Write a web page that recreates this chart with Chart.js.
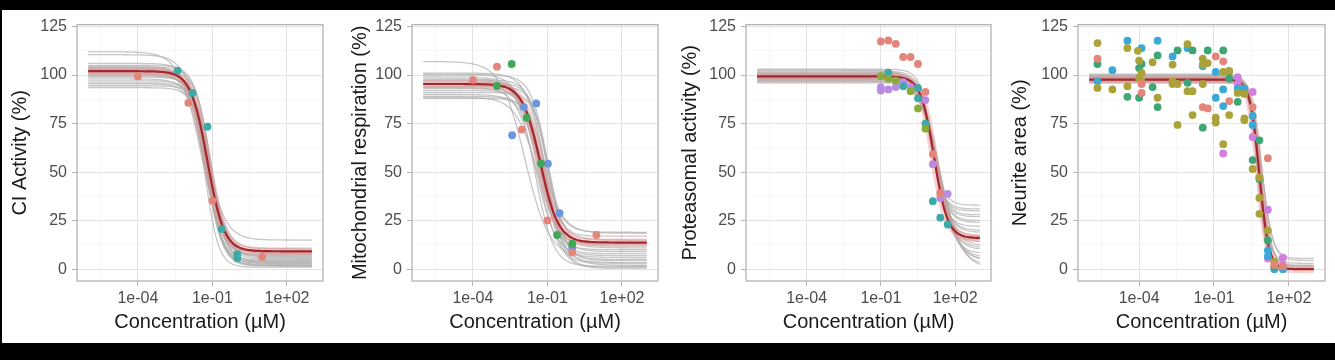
<!DOCTYPE html>
<html>
<head>
<meta charset="utf-8">
<script src="https://cdn.jsdelivr.net/npm/chart.js@4.4.0/dist/chart.umd.min.js"></script>
<style>
  html, body { margin: 0; padding: 0; background: #000; }
  body { width: 1335px; height: 360px; position: relative; overflow: hidden; }
  #sheet { position: absolute; left: 2px; top: 10px; width: 1333px; height: 333px; background: #fff; }
  canvas { position: absolute; top: 10px; }
</style>
</head>
<body>
<div id="sheet"></div>
<canvas id="ci" width="327" height="333" style="left:2px;width:327px;height:333px"></canvas>
<canvas id="mito" width="329" height="333" style="left:335px;width:329px;height:333px"></canvas>
<canvas id="prot" width="329" height="333" style="left:668px;width:329px;height:333px"></canvas>
<canvas id="neur" width="333" height="333" style="left:998px;width:333px;height:333px"></canvas>
<script>
// axes (x in log10 µM)
const xMajor = [-4, -1, 2];
const xMinor = [-5.5, -2.5, 0.5];
const xTickLabels = ['1e-04', '1e-01', '1e+02'];
const yMajor = [0, 25, 50, 75, 100, 125];
const yMinor = [12.5, 37.5, 62.5, 87.5, 112.5];
const xAxisTitle = 'Concentration (µM)';

// colours
const cSalmon = '#e3857a';
const cTeal = '#3eaaa8';
const cGreen = '#41a656';
const cBlue = '#6a96de';
const cOlive = '#8aab3a';
const cPurple = '#b98be3';
const cMustard = '#aba33a';
const cJade = '#3ea574';
const cSky = '#3aa9d6';
const cPink = '#d27fdf';

// ---- CI activity ----
const ciSalmonX = [-4.0, -1.97, -1.0, 1.0];
const ciSalmonY = [99.3, 85.7, 35.3, 6.3];
const ciTealX = [-2.4, -1.8, -1.2, -0.63, 0.0, 0.0];
const ciTealY = [102.3, 90.8, 73.4, 20.7, 7.7, 5.6];
const ciFit = { top: 102, bottom: 9.2, ec50: -1.2, hill: 1.3 };
const ciBootTop = [112, 110.5, 106, 105, 104.5, 104, 103.5, 103, 102.5, 102, 101.5, 101, 100.5, 100, 99.5, 99, 98, 97, 96, 95.5, 94.5, 93.5];
const ciBootBottom = [6, 15, 4, 9.5, 3, 7, 2, 5.5, 8.5, 1.5, 4.5, 10.5, 3.5, 6.5, 2.5, 5, 8, 1, 4, 3, 7.5, 2];
const ciBootEc50 = [-1.45, -1.3, -1.2, -1.1, -1.3, -1.15, -1.25, -1.12, -1.35, -1.2, -1.05, -1.15, -1.28, -1.12, -1.22, -1.08, -1.18, -1.3, -1.1, -1.2, -1.05, -1.15];
const ciBootHill = [1.0, 1.1, 1.3, 1.4, 1.2, 1.5, 1.3, 1.2, 1.15, 1.4, 1.5, 1.25, 1.35, 1.2, 1.45, 1.3, 1.2, 1.6, 1.4, 1.35, 1.5, 1.45];

// ---- Mitochondrial respiration ----
const mitoSalmonX = [-4.0, -3.03, -2.03, -1.0, 0.0, 0.97];
const mitoSalmonY = [97.5, 104.3, 71.9, 25.1, 8.6, 17.6];
const mitoGreenX = [-3.03, -2.44, -1.83, -1.26, -0.61, 0.0];
const mitoGreenY = [94.4, 105.7, 78.0, 54.5, 17.6, 13.2];
const mitoBlueX = [-2.42, -1.95, -1.45, -0.98, -0.51, 0.0];
const mitoBlueY = [69.0, 83.5, 85.4, 54.3, 28.9, 11.1];
const mitoFit = { top: 95.4, bottom: 13.7, ec50: -1.28, hill: 1.2 };
const mitoBootTop = [107, 101, 100.5, 100, 99, 98, 97.5, 97, 96, 95.5, 95, 94, 93.5, 93, 92, 91, 90, 89, 88.5, 88];
const mitoBootBottom = [6, 19, 3, 12, 18.5, 1.5, 8, 15, 4.5, 10, 2, 17, 7, 0.5, 13, 5, 9, 3.5, 11, 1];
const mitoBootEc50 = [-1.9, -1.2, -1.4, -1.0, -1.3, -1.5, -1.1, -1.25, -0.95, -1.35, -1.2, -1.05, -1.45, -1.15, -1.3, -0.9, -1.25, -1.1, -1.4, -1.0];
const mitoBootHill = [0.9, 1.2, 1.1, 1.3, 1.0, 1.2, 1.4, 1.1, 1.3, 1.2, 1.0, 1.5, 1.1, 1.2, 1.3, 1.4, 1.1, 1.2, 1.0, 1.3];

// ---- Proteasomal activity ----
const protSalmonX = [-1.0, -0.7, -0.4, -0.1, 0.2, 0.5, 0.8, 1.1, 1.4];
const protSalmonY = [117.3, 117.8, 116.1, 109.3, 109.3, 105.7, 91.3, 59.3, 39.1];
const protOliveX = [-1.0, -0.7, -0.4, 0.2, 0.5, 0.8];
const protOliveY = [99.4, 98.2, 97.2, 91.7, 82.8, 72.4];
const protTealX = [-0.7, -0.1, 0.5, 0.5, 0.8, 1.1, 1.4, 1.7];
const protTealY = [101.3, 94.3, 93.4, 88.0, 75.0, 35.0, 26.5, 23.0];
const protPurpleX = [-1.0, -1.0, -0.7, -0.4, -0.1, 0.2, 0.8, 1.1, 1.4, 1.7];
const protPurpleY = [93.8, 92.0, 92.6, 93.8, 96.3, 93.9, 87.1, 54.1, 36.7, 38.8];
const protFit = { top: 99.3, bottom: 16, ec50: 1.15, hill: 1.6 };
const protBootTop = [103, 102.5, 102, 101.5, 101, 100.5, 100, 100, 99.5, 99, 99, 98.5, 98, 98, 97.5, 97, 96.5, 96, 101, 99.5, 98.5, 97];
const protBootBottom = [33, 2, 25, 10, 30, 5, 20, 14, 27, 0, 8, 22, 17, 12, 31, 4, 24, 19, 6, 28, 15, 11];
const protBootEc50 = [1.05, 1.35, 1.1, 1.25, 1.0, 1.3, 1.15, 1.2, 1.1, 1.4, 1.25, 1.1, 1.2, 1.3, 1.05, 1.35, 1.15, 1.2, 1.3, 1.1, 1.2, 1.25];
const protBootHill = [1.8, 1.1, 1.6, 1.3, 1.7, 1.2, 1.5, 1.4, 1.7, 1.0, 1.3, 1.6, 1.5, 1.3, 1.8, 1.1, 1.6, 1.5, 1.2, 1.7, 1.4, 1.3];

// ---- Neurite area ----
const neurMustardX = [-5.67, -5.67, -5.07, -4.47, -4.47, -4.05, -4.0, -4.0, -3.9, -3.9, -3.46, -3.26, -2.66, -2.66, -2.66, -2.46, -2.46, -2.06, -2.06, -1.86, -1.86, -1.45, -1.45, -1.45, -1.25, -0.93, -0.93, -0.63, -0.63, -0.39, -0.39, -0.05, 0.22, 0.22, 0.22, 0.55, 0.82, 0.82, 0.82, 1.16, 1.42];
const neurMustardY = [116.5, 93.4, 92.6, 113.9, 94.3, 112.5, 107.4, 98.5, 101.1, 96.8, 106.6, 88.3, 105.4, 96.8, 95.4, 74.3, 95.4, 115.9, 91.7, 91.7, 79.4, 108.4, 105.4, 95.4, 106.2, 78.0, 75.5, 101.6, 64.4, 102.2, 79.4, 90.8, 90.3, 77.7, 76.7, 51.6, 47.3, 36.7, 28.5, 20.0, 3.8];
const neurJadeX = [-5.67, -4.47, -4.0, -4.0, -3.9, -3.46, -3.26, -3.26, -2.46, -2.06, -1.86, -1.45, -1.25, -0.63, -0.39, -0.39, -0.05, 0.55, 0.82, 0.82, 1.16, 1.42];
const neurJadeY = [105.7, 88.8, 103.6, 88.3, 105.7, 93.8, 110.1, 83.5, 112.7, 96.0, 112.7, 72.9, 112.7, 112.7, 101.9, 98.2, 86.2, 56.2, 66.4, 46.4, 14.9, 1.2];
const neurSkyX = [-5.67, -5.07, -4.47, -3.9, -3.26, -2.66, -2.06, -1.45, -0.93, -0.93, -0.63, -0.63, -0.05, 0.22, 0.55, 0.55, 1.16, 1.16, 1.42, 1.76];
const neurSkyY = [96.8, 102.5, 117.7, 113.9, 117.7, 109.6, 113.9, 104.5, 101.6, 88.3, 92.6, 84.0, 93.1, 93.1, 78.9, 74.3, 9.7, 6.7, 0.0, 0.0];
const neurSalmonX = [-5.67, -3.9, -3.9, -1.45, -1.25, -0.93, -0.63, -0.39, 0.55, 1.16, 1.42, 1.76];
const neurSalmonY = [108.4, 95.4, 90.8, 83.5, 82.8, 109.6, 107.1, 86.6, 83.5, 57.2, 2.2, 1.5];
const neurPinkX = [-0.63, -0.05, -0.05, 0.55, 0.55, 1.16, 1.16, 1.76, 1.76];
const neurPinkY = [59.6, 98.9, 95.4, 91.3, 68.1, 30.6, 5.5, 2.2, 5.9];
const neurFit = { top: 97.7, bottom: 0, ec50: 0.82, hill: 2.3 };
const neurBootTop = [100.5, 100, 99.5, 99, 98.5, 98.5, 98, 98, 97.5, 97.5, 97, 97, 96.5, 96, 99, 100];
const neurBootBottom = [5.5, 0, 3, 0, 1.5, 0, 4.5, 0, 0, 2, 0, 0, 1, 0, 0, 0];
const neurBootEc50 = [0.9, 0.8, 0.85, 0.75, 0.88, 0.8, 0.92, 0.78, 0.82, 0.86, 0.76, 0.84, 0.8, 0.79, 0.83, 0.81];
const neurBootHill = [2.0, 2.3, 2.1, 2.4, 2.2, 2.5, 2.0, 2.3, 2.2, 2.1, 2.4, 2.3, 2.2, 2.5, 2.3, 2.2];

// log-logistic fits are evaluated from -6 to 3 (log10 µM)
const curveSteps = [];
for (let i = 0; i <= 180; i++) curveSteps.push(-6 + i * 0.05);

function fitLine(top, bottom, ec50, hill) {
  return curveSteps.map(x => ({ x: x, y: bottom + (top - bottom) / (1 + Math.pow(10, hill * (x - ec50))) }));
}

function pts(xs, ys) {
  return xs.map((x, i) => ({ x: x, y: ys[i] }));
}

const fontFamily = '"Liberation Sans", Arial, sans-serif';
Chart.defaults.font.family = fontFamily;

const panelBorder = {
  id: 'panelBorder',
  afterDraw(chart) {
    const a = chart.chartArea, c = chart.ctx;
    c.save();
    c.strokeStyle = '#b3b3b3';
    c.lineWidth = 1.3;
    c.strokeRect(a.left, a.top, a.right - a.left, a.bottom - a.top);
    c.restore();
  }
};

function gridOpts(major) {
  return {
    color: c => major.includes(c.tick.value) ? '#e2e2e2' : '#f0f0f0',
    lineWidth: c => major.includes(c.tick.value) ? 1 : 0.6,
    tickLength: 5,
    tickColor: c => major.includes(c.tick.value) ? '#b3b3b3' : 'rgba(0,0,0,0)'
  };
}

function drawPanel(id, p) {
  const datasets = [];
  p.groups.forEach(g => {
    datasets.push({
      type: 'scatter', data: pts(g[0], g[1]), backgroundColor: g[2],
      pointRadius: 3.9, borderWidth: 0, order: 0
    });
  });
  const fit = fitLine(p.fit.top, p.fit.bottom, p.fit.ec50, p.fit.hill);
  datasets.push({ data: fit, borderColor: '#a3272b', borderWidth: 2.2, order: 1 });
  datasets.push({ data: fit, borderColor: 'rgba(236,140,140,0.4)', borderWidth: 8, order: 2 });
  p.boot[0].forEach((t, i) => {
    datasets.push({
      data: fitLine(t, p.boot[1][i], p.boot[2][i], p.boot[3][i]),
      borderColor: 'rgba(175,175,175,0.7)', borderWidth: 1.3, order: 3
    });
  });

  new Chart(document.getElementById(id), {
    type: 'line',
    data: { datasets: datasets },
    plugins: [panelBorder],
    options: {
      responsive: false,
      animation: false,
      devicePixelRatio: 1,
      layout: { padding: { top: 13, right: 6, left: 0, bottom: 0 } },
      elements: { point: { radius: 0 }, line: { tension: 0 } },
      plugins: { legend: { display: false }, tooltip: { enabled: false } },
      scales: {
        x: {
          type: 'linear', min: -6.45, max: 3.45,
          afterBuildTicks: s => { s.ticks = xMinor.concat(xMajor).sort((a, b) => a - b).map(v => ({ value: v })); },
          afterFit: s => { s.height = 62; },
          ticks: {
            autoSkip: false, maxRotation: 0, padding: 3, color: '#4d4d4d',
            font: { size: 16 },
            callback: v => { const i = xMajor.indexOf(v); return i < 0 ? '' : xTickLabels[i]; }
          },
          grid: gridOpts(xMajor),
          border: { display: false },
          title: { display: true, text: xAxisTitle, color: '#1a1a1a', font: { size: 20 }, padding: { top: 0, bottom: 9 } }
        },
        y: {
          type: 'linear', min: -6.1, max: 126,
          afterBuildTicks: s => { s.ticks = yMinor.concat(yMajor).sort((a, b) => a - b).map(v => ({ value: v })); },
          afterFit: s => { s.width = p.axisWidth; },
          ticks: {
            padding: 5, color: '#4d4d4d', font: { size: 16 },
            callback: v => yMajor.includes(v) ? String(v) : ''
          },
          grid: gridOpts(yMajor),
          border: { display: false },
          title: { display: true, text: p.yTitle, color: '#1a1a1a', font: { size: 20 }, padding: { top: p.titlePad, bottom: 0 } }
        }
      }
    }
  });
}

drawPanel('ci', {
  yTitle: 'CI Activity (%)', axisWidth: 75, titlePad: 6,
  groups: [[ciSalmonX, ciSalmonY, cSalmon], [ciTealX, ciTealY, cTeal]],
  fit: ciFit, boot: [ciBootTop, ciBootBottom, ciBootEc50, ciBootHill]
});
drawPanel('mito', {
  yTitle: 'Mitochondrial respiration (%)', axisWidth: 77, titlePad: 13,
  groups: [[mitoSalmonX, mitoSalmonY, cSalmon], [mitoGreenX, mitoGreenY, cGreen], [mitoBlueX, mitoBlueY, cBlue]],
  fit: mitoFit, boot: [mitoBootTop, mitoBootBottom, mitoBootEc50, mitoBootHill]
});
drawPanel('prot', {
  yTitle: 'Proteasomal activity (%)', axisWidth: 78, titlePad: 10,
  groups: [[protSalmonX, protSalmonY, cSalmon], [protOliveX, protOliveY, cOlive], [protTealX, protTealY, cTeal], [protPurpleX, protPurpleY, cPurple]],
  fit: protFit, boot: [protBootTop, protBootBottom, protBootEc50, protBootHill]
});
drawPanel('neur', {
  yTitle: 'Neurite area (%)', axisWidth: 80, titlePad: 10,
  groups: [[neurSalmonX, neurSalmonY, cSalmon], [neurMustardX, neurMustardY, cMustard], [neurJadeX, neurJadeY, cJade], [neurSkyX, neurSkyY, cSky], [neurPinkX, neurPinkY, cPink]],
  fit: neurFit, boot: [neurBootTop, neurBootBottom, neurBootEc50, neurBootHill]
});
</script>
</body>
</html>
